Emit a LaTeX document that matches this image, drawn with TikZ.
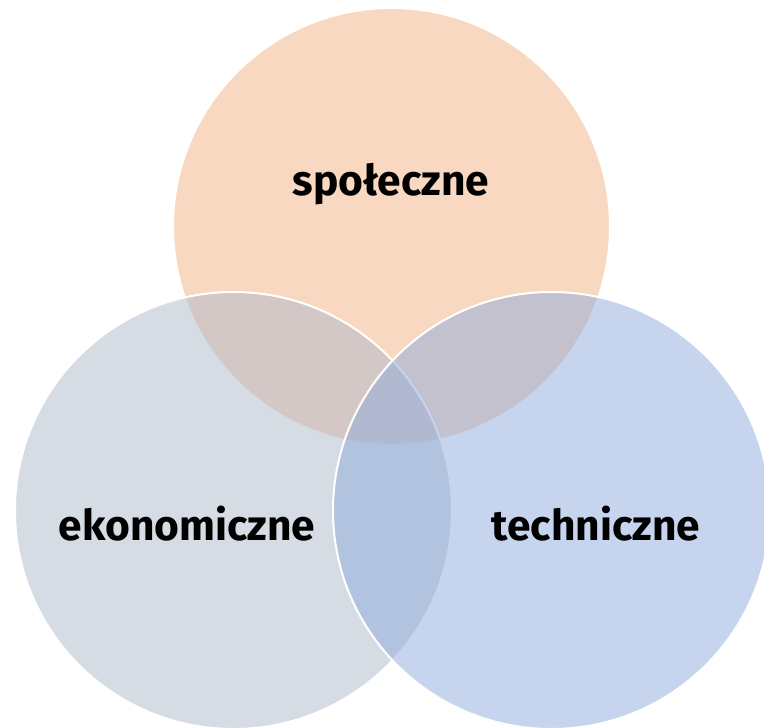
\documentclass[tikz,border=0pt]{standalone}
\usepackage{fontspec}
\setmainfont{Fira Sans}
\definecolor{spol}{HTML}{F4B183}
\definecolor{ekon}{HTML}{ADB9CA}
\definecolor{tech}{HTML}{8FAADC}
\tikzset{
  krag/.style={circle, minimum size=437pt, inner sep=0pt, draw=white, line width=2pt, fill opacity=0.5},
  napis/.style={font=\fontsize{42.5}{46}\selectfont\bfseries, text opacity=1}
}
\begin{document}
\begin{tikzpicture}[x=1pt,y=-1pt]
\useasboundingbox (0,0) rectangle (764,728);

\node[krag, fill=spol] (s) at (391.5,226.5) {};
\node[krag, fill=ekon] (e) at (233.5,510.5) {};
\node[krag, fill=tech] (t) at (551.5,510.5) {};

\node[napis] (sn) at (391,184) {społeczne};
\node[napis] (en) at (187,524) {ekonomiczne};
\node[napis] (tn) at (596,524) {techniczne};
\end{tikzpicture}
\end{document}
